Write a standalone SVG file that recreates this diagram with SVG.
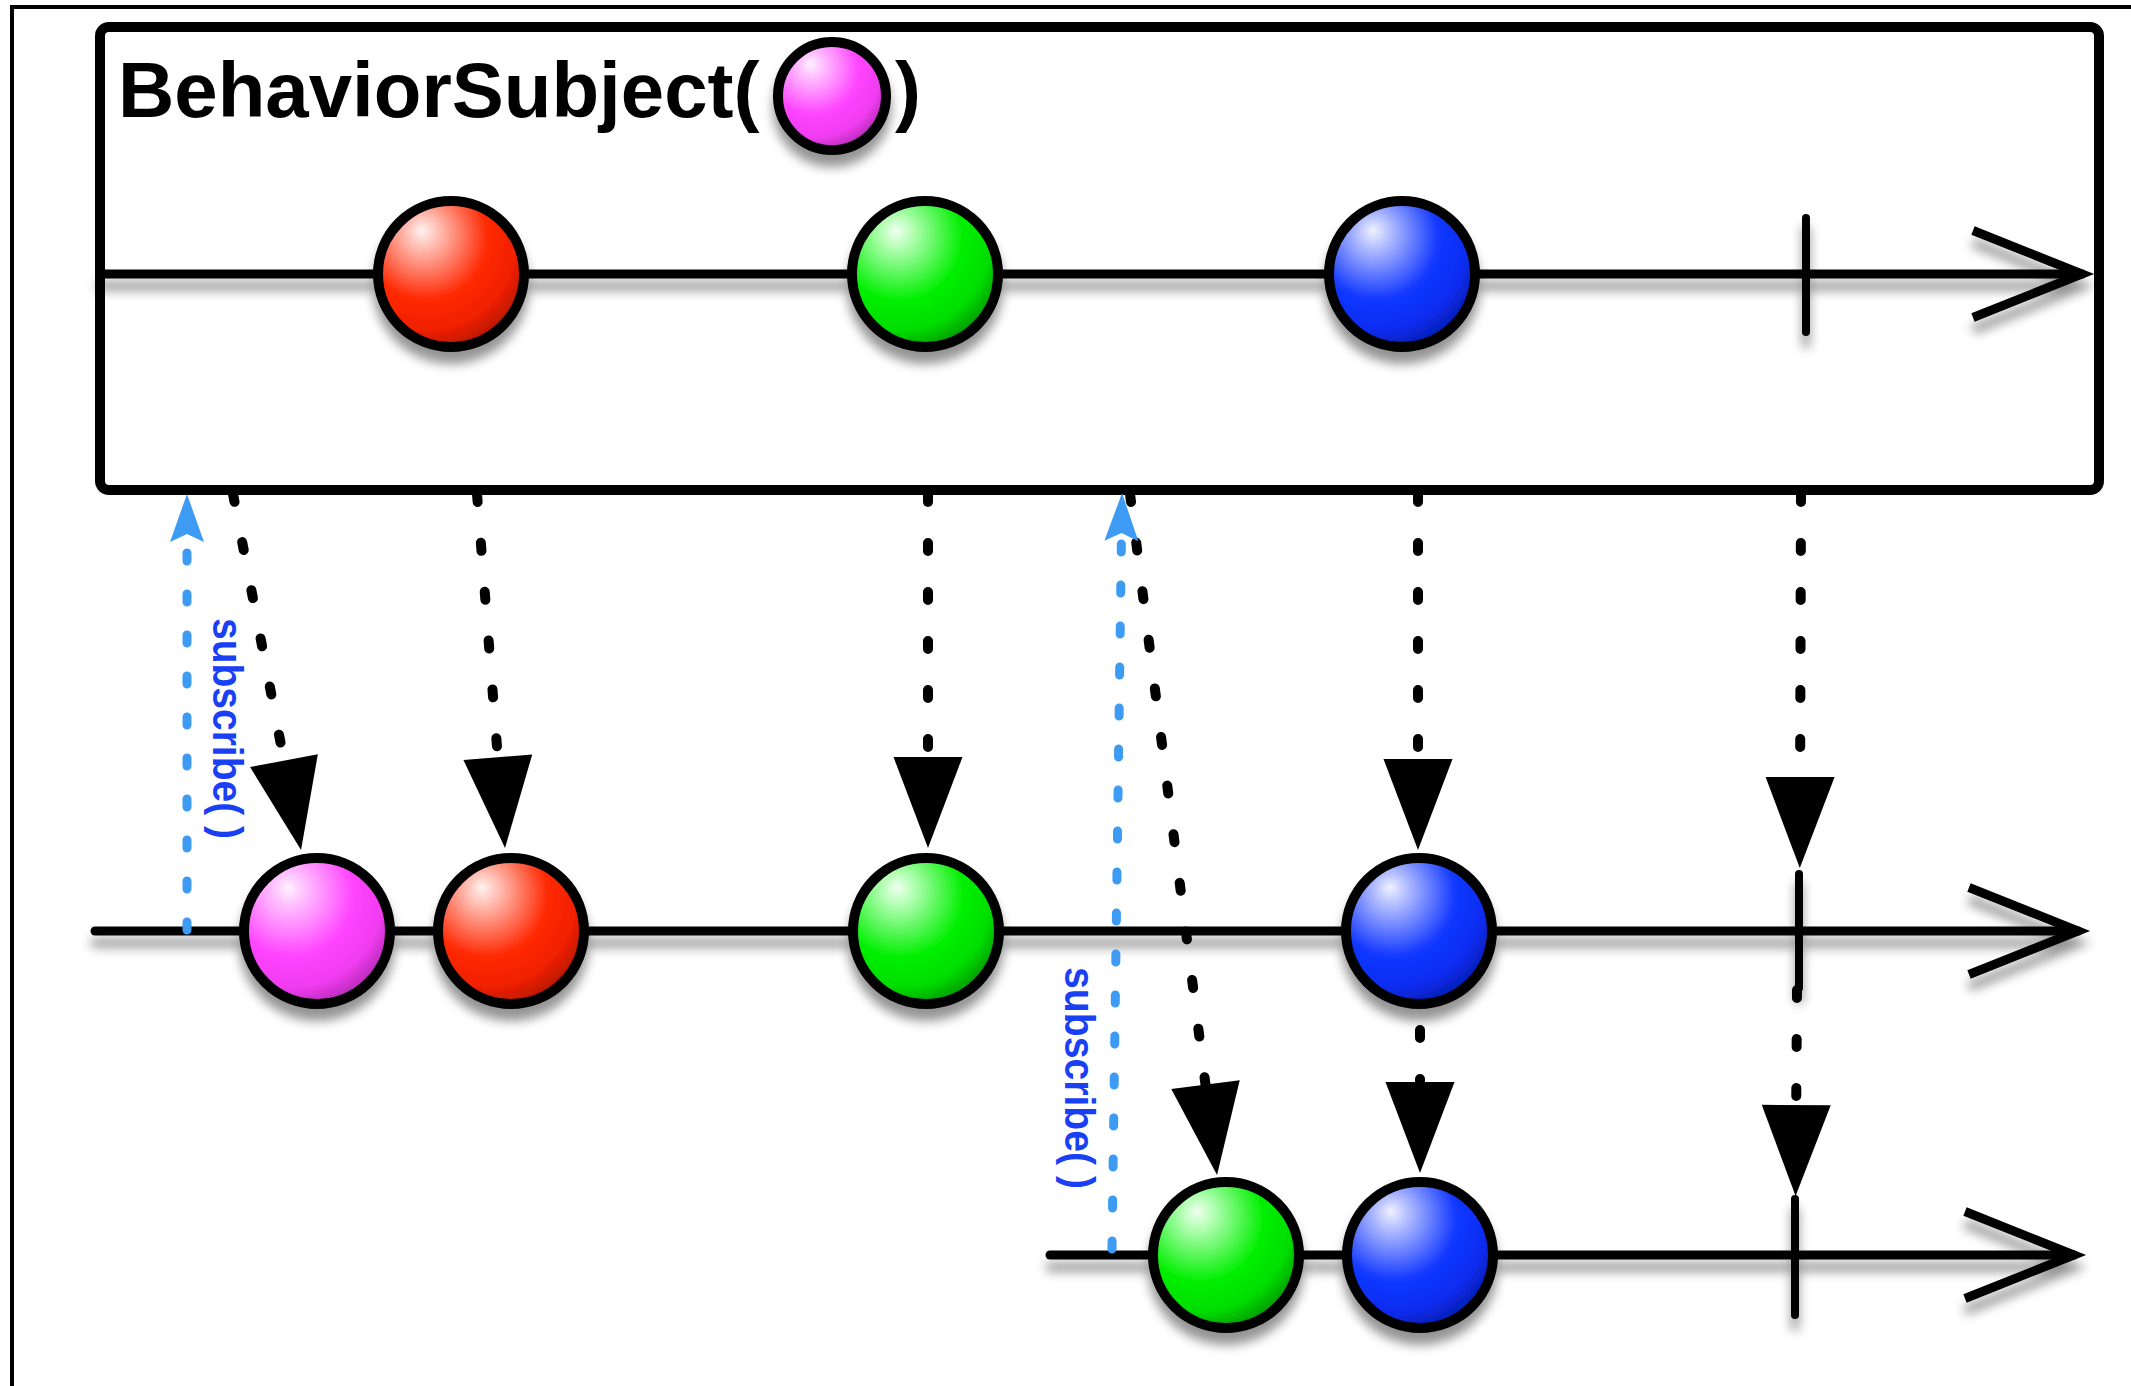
<svg xmlns="http://www.w3.org/2000/svg" width="2131" height="1386" viewBox="0 0 2131 1386">
  <style>
    .frame { fill: none; stroke: #000; stroke-width: 4; }
    .subject { fill: #fff; stroke: #000; stroke-width: 10; }
    .title { font-family: "Liberation Sans", Arial, sans-serif; font-weight: bold; font-size: 78px; fill: #000; }
    .axis { fill: none; stroke: #000; stroke-width: 9; stroke-linecap: round; }
    .head { fill: none; stroke: #000; stroke-width: 9; stroke-linejoin: miter; stroke-linecap: butt; }
    .tick { stroke: #000; stroke-width: 8; stroke-linecap: round; }
    .marble { stroke: #000; stroke-width: 10; }
    .emit { fill: none; stroke: #000; stroke-width: 10; stroke-linecap: round; stroke-dasharray: 8 41; marker-end: url(#emitHead); }
    .sub { fill: none; stroke: #3d9bf4; stroke-width: 9; stroke-linecap: round; stroke-dasharray: 8 33; marker-end: url(#subHead); }
    .sublabel { font-family: "Liberation Sans", Arial, sans-serif; font-weight: bold; font-size: 42px; fill: #1a40f5; }
  </style>
  <defs>
    <filter id="shadow" x="-20%" y="-20%" width="140%" height="160%">
      <feDropShadow dx="0" dy="12" stdDeviation="5.5" flood-color="#000" flood-opacity="0.42"/>
    </filter>
    <radialGradient id="gRed" cx="0.35" cy="0.3" r="0.85" fx="0.3" fy="0.2">
      <stop offset="0" stop-color="#fff2f0"/>
      <stop offset="0.12" stop-color="#ffc2b8"/>
      <stop offset="0.5" stop-color="#ff2a05"/>
      <stop offset="0.72" stop-color="#f02000"/>
      <stop offset="1" stop-color="#8a1000"/>
    </radialGradient>
    <radialGradient id="gGreen" cx="0.35" cy="0.3" r="0.85" fx="0.3" fy="0.2">
      <stop offset="0" stop-color="#f0fff0"/>
      <stop offset="0.12" stop-color="#b8ffb8"/>
      <stop offset="0.5" stop-color="#05f005"/>
      <stop offset="0.72" stop-color="#00dd00"/>
      <stop offset="1" stop-color="#006600"/>
    </radialGradient>
    <radialGradient id="gBlue" cx="0.35" cy="0.3" r="0.85" fx="0.3" fy="0.2">
      <stop offset="0" stop-color="#f0f2ff"/>
      <stop offset="0.12" stop-color="#b8c2ff"/>
      <stop offset="0.5" stop-color="#1238ff"/>
      <stop offset="0.72" stop-color="#0a2cf0"/>
      <stop offset="1" stop-color="#001280"/>
    </radialGradient>
    <radialGradient id="gPink" cx="0.35" cy="0.3" r="0.85" fx="0.3" fy="0.2">
      <stop offset="0" stop-color="#fff2ff"/>
      <stop offset="0.12" stop-color="#ffc4ff"/>
      <stop offset="0.5" stop-color="#ff44ff"/>
      <stop offset="0.72" stop-color="#f03cf0"/>
      <stop offset="1" stop-color="#8a1c8a"/>
    </radialGradient>
    <marker id="emitHead" markerUnits="userSpaceOnUse" markerWidth="92" markerHeight="70" refX="30" refY="34.5" orient="auto" overflow="visible">
      <path d="M0,0 L91,34.5 L0,69 Z" fill="#000"/>
    </marker>
    <marker id="subHead" markerUnits="userSpaceOnUse" markerWidth="50" markerHeight="36" refX="8" refY="17" orient="auto" overflow="visible">
      <path d="M0,0 L48,17 L0,34 L8,17 Z" fill="#3d9bf4"/>
    </marker>
  </defs>

  <rect width="2131" height="1386" fill="#fff"/>
  <path class="frame" d="M12,1390 L12,7 L2135,7"/>

  <!-- BehaviorSubject box with its source timeline -->
  <g id="subject">
    <rect class="subject" x="100" y="27" width="1999" height="463" rx="9"/>
    <text class="title" x="118" y="117">BehaviorSubject(</text>
    <circle class="marble" cx="832" cy="96" r="54" fill="url(#gPink)" stroke-width="8.5" filter="url(#shadow)"/>
    <text class="title" x="895" y="117">)</text>
  </g>

  <g id="source" filter="url(#shadow)">
    <line class="axis" x1="100" y1="274" x2="2082" y2="274"/>
    <polyline class="head" points="1973,230.5 2082,274 1973,317.5"/>
    <line class="tick" x1="1806" y1="218" x2="1806" y2="332"/>
    <circle class="marble" cx="451" cy="274" r="73" fill="url(#gRed)"/>
    <circle class="marble" cx="925" cy="274" r="73" fill="url(#gGreen)"/>
    <circle class="marble" cx="1402" cy="274" r="73" fill="url(#gBlue)"/>
  </g>

  <!-- first subscriber -->
  <g id="observer1" filter="url(#shadow)">
    <line class="axis" x1="95" y1="931" x2="2078" y2="931"/>
    <polyline class="head" points="1969,887.5 2078,931 1969,974.5"/>
    <line class="tick" x1="1799" y1="874" x2="1799" y2="988"/>
    <circle class="marble" cx="317" cy="931" r="73" fill="url(#gPink)"/>
    <circle class="marble" cx="511" cy="931" r="73" fill="url(#gRed)"/>
    <circle class="marble" cx="926" cy="931" r="73" fill="url(#gGreen)"/>
    <circle class="marble" cx="1419" cy="931" r="73" fill="url(#gBlue)"/>
  </g>

  <!-- second subscriber -->
  <g id="observer2" filter="url(#shadow)">
    <line class="axis" x1="1050" y1="1255" x2="2074" y2="1255"/>
    <polyline class="head" points="1965,1211.5 2074,1255 1965,1298.5"/>
    <line class="tick" x1="1795" y1="1199" x2="1795" y2="1315"/>
    <circle class="marble" cx="1226" cy="1255" r="73" fill="url(#gGreen)"/>
    <circle class="marble" cx="1420" cy="1255" r="73" fill="url(#gBlue)"/>
  </g>

  <!-- emissions and subscriptions -->
  <g id="connectors">
    <path class="emit" d="M233,494 L289.6,790.1"/>
    <path class="emit" d="M477,494 L500.2,787.2"/>
    <path class="emit" d="M928,494 L928,787"/>
    <path class="emit" d="M1418,494 L1418,789"/>
    <path class="emit" d="M1801,494 L1800,807"/>
    <path class="emit" d="M1797,990 L1796,1135"/>
    <path class="emit" d="M1420,1030 L1420,1112"/>
    <path class="emit" d="M1130,494 L1209.3,1114.5"/>
    <path class="sub" d="M187,930 L187,534"/>
    <path class="sub" d="M1112,1249 L1121.5,533"/>
  </g>

  <g id="subscribe-labels">
    <text class="sublabel" transform="translate(213,618) rotate(90)" textLength="221" lengthAdjust="spacingAndGlyphs">subscribe( )</text>
    <text class="sublabel" transform="translate(1065,967) rotate(90)" textLength="222" lengthAdjust="spacingAndGlyphs">subscribe( )</text>
  </g>
</svg>
